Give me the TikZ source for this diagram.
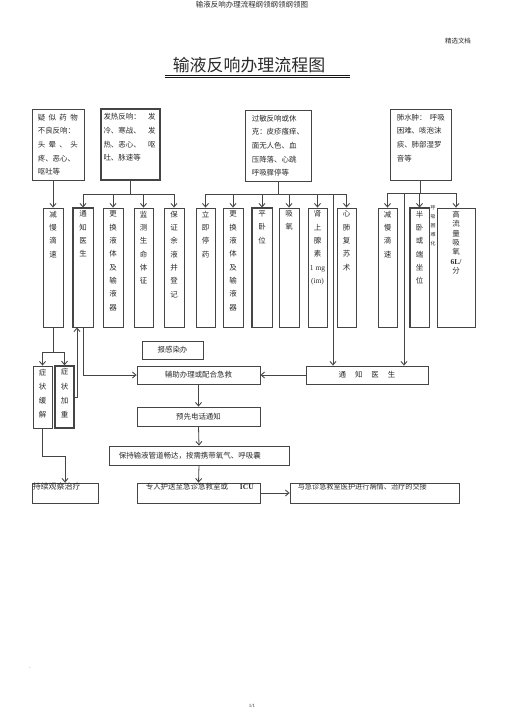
\documentclass[tikz,border=0pt]{standalone}
\usepackage{fontspec}
\setmainfont{Liberation Serif}
\newfontfamily\cjk{Noto Sans CJK SC}
\usetikzlibrary{arrows.meta}
\definecolor{lin}{HTML}{454545}
\definecolor{txt}{HTML}{2A2A2A}
\tikzset{
  every node/.append style={text=txt},
  fbox/.style={draw=lin, line width=0.8bp, inner sep=0, minimum height=71bp},
  col/.style={draw=lin, line width=0.8bp, inner sep=0, minimum height=119bp},
  coltext/.style={anchor=north, align=center, inner sep=0, yshift=-3bp,
    font=\cjk\fontsize{7.5}{13.4}\selectfont},
  btext/.style={anchor=north west, align=left, inner sep=0,
    font=\cjk\fontsize{7.5}{13.7}\selectfont},
  wbox/.style={draw=lin, line width=0.8bp, inner sep=0,
    font=\cjk\fontsize{7.5}{9}\selectfont},
  heavy/.style={line width=1.4bp},
  conn/.style={draw=lin, line width=0.8bp},
  >={Straight Barb[length=3.5bp,width=6bp,line width=0.9bp]}
}
\begin{document}
\begin{tikzpicture}[x=1bp,y=-1bp]
\useasboundingbox (0,0) rectangle (505,714);
% page head
\node[font=\cjk\fontsize{7.5}{9}\selectfont] (head) at (252,5) {输液反响办理流程纲领纲领纲领图};
\node[font=\cjk\fontsize{6.5}{8}\selectfont] (jx) at (458,41) {精选文档};
\node[font=\cjk\fontsize{17}{20}\selectfont, inner sep=0] (title) at (249,65) {输液反响办理流程图};
\draw[blue!80!black, line width=0.7bp] ([xshift=-8bp,yshift=-2bp]title.south west) -- ([xshift=25bp,yshift=-2bp]title.south east);
\draw[blue!80!black, line width=0.7bp] ([xshift=-8bp,yshift=-4bp]title.south west) -- ([xshift=25bp,yshift=-4bp]title.south east);

% reactions
\node[fbox, minimum width=52bp] (fy1) at (58,144.5) {};
\node[fbox, minimum width=59bp, heavy] (fy2) at (130.5,144.5) {};
\node[fbox, minimum width=66bp] (fy3) at (278,145.5) {};
\node[fbox, minimum width=61bp] (fy4) at (420.5,144.5) {};
\node[btext, text width=40bp] (fy1t) at ([xshift=6bp,yshift=-5bp]fy1.north west)
  {疑\hfill 似\hfill 药\hfill 物\\不良反响：\\头\hfill 晕\hfill 、\hfill 头\\疼、恶心、\\呕吐等};
\node[btext, text width=52bp] (fy2t) at ([xshift=3bp,yshift=-5bp]fy2.north west)
  {发热反响：\hfill 发\\冷、寒战、\hfill 发\\热、恶心、\hfill 呕\\吐、脉速等};
\node[btext, text width=56bp] (fy3t) at ([xshift=7bp,yshift=-5bp]fy3.north west)
  {过敏反响或休\\克：皮疹瘙痒、\\面无人色、血\\压降落、心跳\\呼吸骤停等};
\node[btext, text width=48bp] (fy4t) at ([xshift=7bp,yshift=-5bp]fy4.north west)
  {肺水肿：\hfill 呼吸\\困难、咳泡沫\\痰、肺部湿罗\\音等};

% measures
\foreach \x/\w/\n/\t in {53/20/c1/{减\\慢\\滴\\速}, 83/20/c2/{通\\知\\医\\生},
    113/20/c3/{更\\换\\液\\体\\及\\输\\液\\器}, 143.5/19/c4/{监\\测\\生\\命\\体\\征},
    174/20/c5/{保\\证\\余\\液\\并\\登\\记}, 205.5/19/c6/{立\\即\\停\\药},
    233/20/c7/{更\\换\\液\\体\\及\\输\\液\\器}, 262/20/c8/{平\\卧\\位},
    289/20/c9/{吸\\氧}, 317.5/19/c10/{肾\\上\\腺\\素\\{\rmfamily 1 mg}\\{\rmfamily (im)}},
    346.5/19/c11/{心\\肺\\复\\苏\\术}, 387.5/19/c12/{减\\慢\\滴\\速},
    419.5/19/c13/{半\\卧\\或\\端\\坐\\位}}
{
  \node[col, minimum width=\w bp] (\n) at (\x,267.5) {};
  \node[coltext] (\n t) at (\n.north) {\t};
}
\node[col, minimum width=38bp] (c14) at (456,267.5) {};
\node[coltext, font=\cjk\fontsize{7.5}{9.5}\selectfont] (c14t) at (c14.north) {高\\流\\量\\吸\\氧\\{\rmfamily\bfseries 6L/}\\分};
\foreach \n in {c2,c8,c13} \draw[lin, heavy] (\n.north west) rectangle (\n.south east);
\node[align=center, inner sep=0, font=\cjk\fontsize{5}{9}\selectfont] (hx) at (433,226) {呼\\吸\\困\\难\\化};

% connectors to measures
\coordinate (bar) at (0,194);
\coordinate (bar4) at (0,193);
\draw[conn, ->] (fy1.south -| c1.north) -- (c1.north);
\draw[conn] (fy2.south) -- (fy2.south |- bar);
\draw[conn] (c2.north |- bar) -- (c5.north |- bar);
\foreach \n in {c2,c3,c4,c5} \draw[conn, ->] (\n.north |- bar) -- (\n.north);
\draw[conn] (fy3.south) -- (fy3.south |- bar);
\draw[conn] (c6.north |- bar) -- (c11.north |- bar);
\foreach \n in {c6,c7,c8,c9,c10,c11} \draw[conn, ->] (\n.north |- bar) -- (\n.north);
\draw[conn] (fy4.south) -- (fy4.south |- bar4);
\draw[conn] (c12.north |- bar4) -- (c14.north |- bar4);
\foreach \n in {c12,c13,c14} \draw[conn, ->] (\n.north |- bar4) -- (\n.north);

% lower part
\node[wbox, minimum width=61bp, minimum height=18bp] (bg) at (172.5,350) {报感染办};
\node[wbox, minimum width=123bp, minimum height=18bp] (fz) at (198.5,375) {辅助办理或配合急救};
\node[wbox, minimum width=122bp, minimum height=18bp] (tz) at (367,375) {通\hspace{9bp}知\hspace{9bp}医\hspace{9bp}生};
\node[wbox, minimum width=123bp, minimum height=19bp] (yx) at (198.5,416.5) {预先电话通知};
\node[wbox, minimum width=180bp, minimum height=19bp] (bc) at (199,455.5) {};
\node[anchor=west, inner sep=0, font=\cjk\fontsize{7.5}{9}\selectfont] (bct) at ([xshift=10bp]bc.west) {保持输液管道畅达，按需携带氧气、呼吸囊};
\draw[lin, heavy] (bc.south west) -- (bc.south east);
\node[wbox, minimum width=123bp, minimum height=20bp] (zr) at (198.5,493) {};
\node[wbox, minimum width=169bp, minimum height=20bp] (yj) at (374.5,493) {};
\node[wbox, minimum width=66bp, minimum height=20bp] (cx) at (65,493) {};
\node[anchor=west, inner sep=0, font=\cjk\fontsize{7.5}{9}\selectfont] (zrt) at ([xshift=9bp,yshift=-4bp]zr.north west) {专人护送至急诊急救室或\hspace{12bp}{\rmfamily\bfseries ICU}};
\node[anchor=west, inner sep=0, font=\cjk\fontsize{7.2}{9}\selectfont] (yjt) at ([xshift=8bp,yshift=-4bp]yj.north west) {与急诊急救室医护进行病情、治疗的交接};
\node[anchor=west, inner sep=0, font=\cjk\fontsize{8}{9}\selectfont] (cxt) at ([xshift=1bp,yshift=-4bp]cx.north west) {持续观察治疗};
\node[wbox, minimum width=19bp, minimum height=62bp] (zh) at (42.5,397) {};
\node[wbox, minimum width=19bp, minimum height=62bp, heavy] (zj) at (64.5,397) {};
\node[coltext, font=\cjk\fontsize{7.5}{14.3}\selectfont] (zht) at (zh.north) {症\\状\\缓\\解};
\node[coltext, font=\cjk\fontsize{7.5}{14.3}\selectfont] (zjt) at (zj.north) {症\\状\\加\\重};

% connectors below
\coordinate (bar1) at (0,352);
\coordinate (v3) at (333,194);
\coordinate (v4) at (404,193);
\draw[conn] (c1.south) -- (c1.south |- bar1);
\draw[conn] (zh.north |- bar1) -- (zj.north |- bar1);
\foreach \n in {zh,zj} \draw[conn, ->] (\n.north |- bar1) -- (\n.north);
\draw[conn, ->] (zj.east) -| ([xshift=-6bp]c2.south);
\draw[conn, ->] (c2.south) |- (fz.west);
\draw[conn, ->] (v3) -- (v3 |- tz.north);
\draw[conn, ->] (v4) -- (v4 |- tz.north);
\draw[conn, ->] (tz.west) -- (fz.east);
\draw[conn, ->] (fz.south) -- (yx.north);
\draw[conn, ->] (yx.south) -- (bc.north);
\draw[conn, ->] (bc.south) -- (zr.north);
\draw[conn, ->] (zr.east) -- (yj.west);
\draw[conn, ->] (zh.south) |- ([yshift=26bp]cx.north) -- (cx.north);

% page foot
\node[font=\fontsize{5}{6}\selectfont] (dot) at (30,668) {.};
\node[font=\fontsize{5}{6}\selectfont] (pg) at (252,706) {1/1};
\end{tikzpicture}
\end{document}
